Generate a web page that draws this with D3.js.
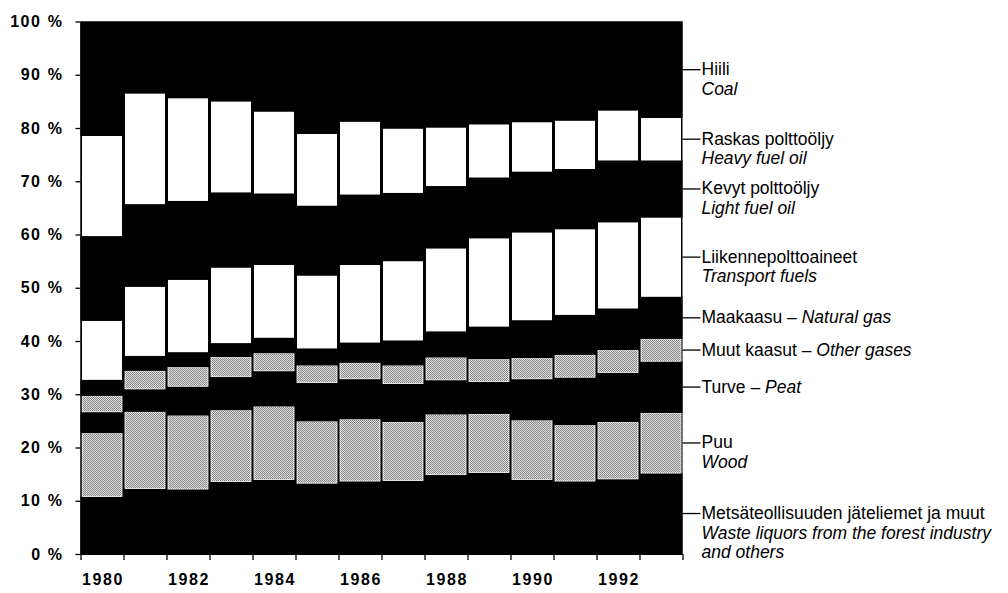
<!DOCTYPE html>
<html><head><meta charset="utf-8">
<script src="https://cdn.jsdelivr.net/npm/d3@7"></script>
<style>body{margin:0;background:#fff} svg{display:block}</style>
</head><body><svg id="c" width="1008" height="593"></svg>
<script>
// ---- data (shares of total energy consumption, %) ----
const years = [1980,1981,1982,1983,1984,1985,1986,1987,1988,1989,1990,1991,1992,1993];
const waste      = [10.8,12.3,12.2,13.6,14.0,13.3,13.7,13.8,14.9,15.3,14.0,13.7,14.1,15.2];
const wood       = [11.9,14.4,13.8,13.4,13.7,11.6,11.6,11.0,11.3,11.0,11.1,10.5,10.7,11.3];
const peat       = [4.0,4.3,5.5,6.3,6.7,7.3,7.6,7.2,6.5,6.1,7.8,9.0,9.3,9.7];
const otherGases = [3.0,3.4,3.6,3.7,3.3,3.2,3.0,3.4,4.2,4.2,3.9,4.2,4.2,4.2];
const naturalGas = [3.0,2.8,2.8,2.6,2.9,3.2,3.8,4.7,4.9,6.1,7.1,7.5,7.8,7.9];
const transport  = [11.1,13.0,13.6,14.2,13.7,13.7,14.6,14.9,15.6,16.6,16.5,16.1,16.2,14.9];
const lightOil   = [15.9,15.5,14.8,14.1,13.4,13.1,13.2,12.8,11.7,11.4,11.4,11.3,11.6,10.7];
const heavyOil   = [18.8,20.8,19.3,17.1,15.4,13.5,13.7,12.1,11.0,10.0,9.3,9.1,9.4,8.0];
const coal       = [21.5,13.5,14.4,15.0,16.9,21.1,18.8,20.1,19.9,19.3,18.9,18.6,16.7,18.1];

const seriesKeys = ["waste","wood","peat","otherGases","naturalGas","transport","lightOil","heavyOil","coal"];
const seriesValues = [waste,wood,peat,otherGases,naturalGas,transport,lightOil,heavyOil,coal];
const labelFi = ["Metsäteollisuuden jäteliemet ja muut","Puu","Turve","Muut kaasut","Maakaasu","Liikennepolttoaineet","Kevyt polttoöljy","Raskas polttoöljy","Hiili"];
const labelEn = [["Waste liquors from the forest industry","and others"],["Wood"],["Peat"],["Other gases"],["Natural gas"],["Transport fuels"],["Light fuel oil"],["Heavy fuel oil"],["Coal"]];
const inlineLabel = [false,false,true,true,true,false,false,false,false];
const yTicks = [0,10,20,30,40,50,60,70,80,90,100];
const yearLabels = [1980,1982,1984,1986,1988,1990,1992];

// ---- styles ----
const fills = {waste:"black",wood:"gray",peat:"black",otherGases:"gray",naturalGas:"black",transport:"white",lightOil:"black",heavyOil:"white",coal:"black"};

const rows = years.map((yr,i)=>{const o={year:yr}; seriesKeys.forEach((k,j)=>o[k]=seriesValues[j][i]); return o;});
const stacked = d3.stack().keys(seriesKeys)(rows);

const svg = d3.select("#c");
const defs = svg.append("defs");
const pat = defs.append("pattern").attr("id","dither").attr("patternUnits","userSpaceOnUse").attr("width",2).attr("height",2);
pat.append("rect").attr("width",2).attr("height",2).attr("fill","#e0e0e0");
pat.append("rect").attr("x",0).attr("y",0).attr("width",1).attr("height",1).attr("fill","#808080");
pat.append("rect").attr("x",1).attr("y",1).attr("width",1).attr("height",1).attr("fill","#8a8a8a");

const x = d3.scaleBand().domain(years).range([80.5,682.5]).padding(0);
const y = d3.scaleLinear().domain([0,100]).range([554,21.5]);
const bw = x.bandwidth();
const inset = 1.5;

// plot background (continuous black)
svg.append("rect").attr("x",x.range()[0]).attr("y",y(100)).attr("width",x.range()[1]-x.range()[0]).attr("height",y(0)-y(100)).attr("fill","#000");

const g = svg.append("g");
stacked.forEach(s=>{
  const f = fills[s.key];
  g.selectAll(null).data(s).enter().append("rect")
    .attr("x",d=>x(d.data.year)+(f==="black"?0:inset))
    .attr("width",bw-(f==="black"?0:2*inset))
    .attr("y",d=>y(d[1]))
    .attr("height",d=>y(d[0])-y(d[1]))
    .attr("fill",f==="gray"?"url(#dither)":(f==="white"?"#fff":"#000"))
    .attr("stroke",f==="gray"?"#fff":"none")
    .attr("stroke-width",f==="gray"?0.8:0);
});

// y axis
const axisFont = "'Liberation Sans', Arial, Helvetica, sans-serif";
const yAxis = svg.append("g").attr("transform",`translate(${x.range()[0]},0)`)
  .call(d3.axisLeft(y).tickValues(yTicks).tickFormat(d=>d+" %").tickSize(5).tickSizeOuter(0).tickPadding(12));
yAxis.select(".domain").attr("stroke","#000");
yAxis.selectAll("line").attr("stroke","#000").attr("stroke-width",1.3);
yAxis.selectAll("text").attr("font-family",axisFont).attr("font-size",16).attr("font-weight","bold")
  .attr("letter-spacing","1.6px").attr("fill","#000");

// x axis: ticks at band boundaries
const xb = d3.scaleLinear().domain([0,years.length]).range(x.range());
const xAxis = svg.append("g").attr("transform",`translate(0,${y(0)})`)
  .call(d3.axisBottom(xb).tickValues(d3.range(years.length+1)).tickFormat("").tickSize(6).tickSizeOuter(0));
xAxis.select(".domain").attr("stroke","#000");
xAxis.selectAll("line").attr("stroke","#000").attr("stroke-width",1.3);

svg.append("g").selectAll("text").data(yearLabels).enter().append("text")
  .attr("x",d=>x(d)+bw/2+1).attr("y",585)
  .attr("text-anchor","middle")
  .attr("font-family",axisFont).attr("font-size",16).attr("font-weight","bold")
  .attr("letter-spacing","1.6px")
  .text(d=>d);

// right-hand labels with leader lines (pointing at the 1993 bar)
const last = years.length-1;
const right = x.range()[1];
const labFont = "'Liberation Sans', Arial, Helvetica, sans-serif";
const lg = svg.append("g");
stacked.forEach((s,i)=>{
  const d = s[last];
  const ly = y((d[0]+d[1])/2);
  lg.append("line").attr("x1",right).attr("x2",right+18).attr("y1",ly).attr("y2",ly).attr("stroke","#000").attr("stroke-width",1.3);
  const t = lg.append("text").attr("x",right+19).attr("y",ly+5.5)
    .attr("font-family",labFont).attr("font-size",17.5).attr("fill","#000");
  if (inlineLabel[i]) {
    t.append("tspan").text(labelFi[i]+" – ");
    t.append("tspan").attr("font-style","italic").text(labelEn[i][0]);
  } else {
    t.append("tspan").text(labelFi[i]);
    labelEn[i].forEach(line=>{
      t.append("tspan").attr("x",right+19).attr("dy",19.5).attr("font-style","italic").text(line);
    });
  }
});
</script>
</body></html>
